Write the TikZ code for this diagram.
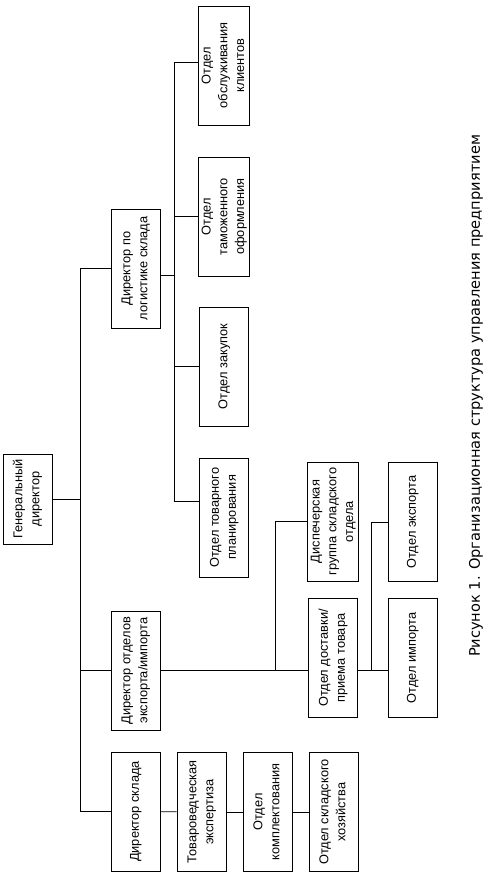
\documentclass[tikz,border=0pt]{standalone}
\usepackage{fontspec}
\setmainfont{Liberation Sans}
\newfontfamily\capfont{DejaVu Sans}
\usepackage{graphicx}
\newcommand{\vtxt}[1]{\rotatebox{90}{\begin{tabular}{@{}c@{}}#1\end{tabular}}}

\begin{document}
\begin{tikzpicture}[
    x=1pt, y=-1pt,
    unit/.style={draw, line width=0.8pt, minimum width=49pt, minimum height=119pt,
                 inner sep=0pt, font=\fontsize{12.8}{16.8}\selectfont},
    link/.style={line width=0.8pt}
]
    \useasboundingbox (0,0) rectangle (495,879);

    % руководство
    \node[unit, minimum height=90pt] (gd) at (27.5,499) {\vtxt{Генеральный\\директор}};
    \node[unit] (dlog) at (135.5,268.5) {\vtxt{Директор по\\логистике склада}};
    \node[unit] (dexp) at (135.5,670.5) {\vtxt{Директор отделов\\экспорта/импорта}};
    \node[unit] (dskl) at (135.5,811.5) {\vtxt{Директор склада}};

    % отделы логистики
    \node[unit] (obs) at (224,65.5) {\vtxt{Отдел\\обслуживания\\клиентов}};
    \node[unit] (tam) at (224,216.5) {\vtxt{Отдел\\таможенного\\оформления}};
    \node[unit] (zak) at (224,366.5) {\vtxt{Отдел закупок}};
    \node[unit] (plan) at (224,517.5) {\vtxt{Отдел товарного\\планирования}};

    % экспорт/импорт
    \node[unit] (disp) at (333,521.5) {\vtxt{Диспечерская\\группа складского\\отдела}};
    \node[unit] (dost) at (333,658) {\vtxt{Отдел доставки/\\приема товара}};
    \node[unit] (exp) at (412.5,522) {\vtxt{Отдел экспорта}};
    \node[unit] (imp) at (412.5,658) {\vtxt{Отдел импорта}};

    % склад
    \node[unit] (tov) at (201.5,812) {\vtxt{Товароведческая\\экспертиза}};
    \node[unit] (kom) at (267.5,812) {\vtxt{Отдел\\комплектования}};
    \node[unit] (hoz) at (333.5,812) {\vtxt{Отдел складского\\хозяйства}};

    % шины
    \coordinate (trunk) at (80,0);
    \coordinate (lbus) at (174,0);
    \coordinate (ebus) at (275,0);
    \coordinate (ibus) at (371,0);

    % связи
    \draw[link] (gd.east) -- (gd.east -| trunk);
    \draw[link] (dlog.west) -- (dlog.west -| trunk) -- (dskl.west -| trunk) -- (dskl.west);
    \draw[link] (dexp.west) -- (dexp.west -| trunk);

    \draw[link] ([yshift=-7pt]dlog.east) -- ([yshift=-7pt]dlog.east -| lbus);
    \draw[link] ([yshift=3pt]obs.west) -- ([yshift=3pt]obs.west -| lbus)
        -- ([yshift=16.5pt]plan.west -| lbus) -- ([yshift=16.5pt]plan.west);
    \draw[link] (tam.west) -- (tam.west -| lbus);
    \draw[link] (zak.west) -- (zak.west -| lbus);

    \draw[link] (dexp.east) -- (dexp.east -| dost.west);
    \draw[link] (disp.west) -- (disp.west -| ebus) -- (dexp.east -| ebus);
    \draw[link] (dexp.east -| dost.east) -- (dexp.east -| imp.west);
    \draw[link] (exp.west) -- (exp.west -| ibus) -- (dexp.east -| ibus);

    \draw[link] (dskl) -- (tov);
    \draw[link] (tov) -- (kom);
    \draw[link] (kom) -- (hoz);

    % подпись
    \node[rotate=90, font=\capfont\fontsize{14.6}{17}\selectfont] (cap) at (476,396)
        {Рисунок 1. Организационная структура управления предприятием};
\end{tikzpicture}
\end{document}
